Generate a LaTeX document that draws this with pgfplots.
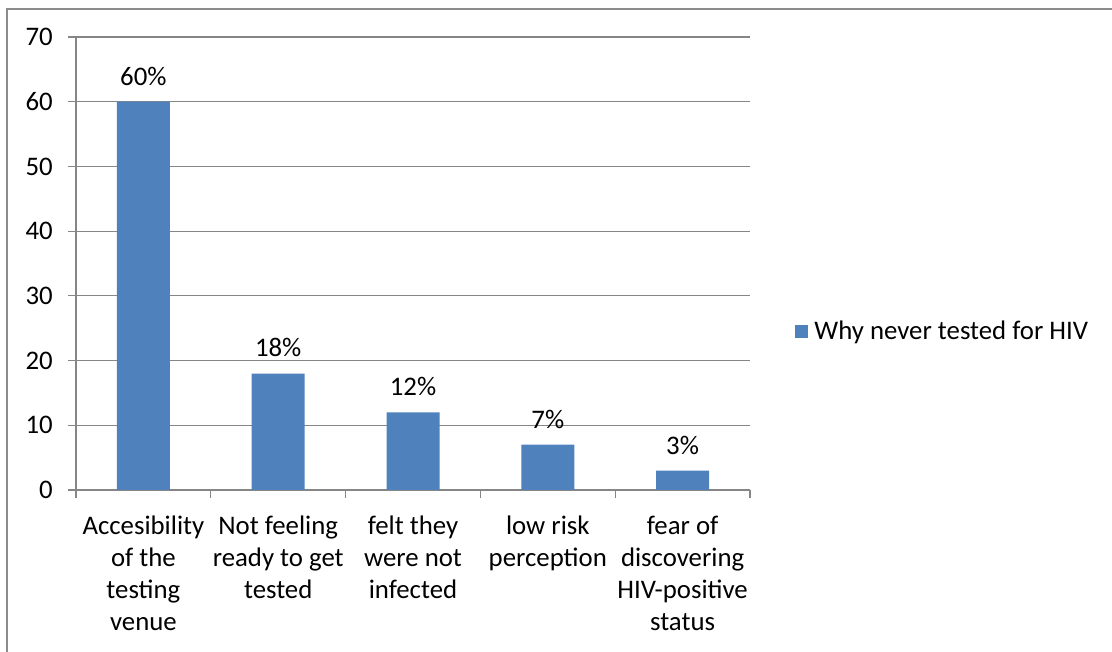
\documentclass[border=0pt]{standalone}
\usepackage{fontspec}
\setmainfont{Carlito}
\usepackage{pgfplots}
\pgfplotsset{compat=1.18}
\definecolor{barblue}{HTML}{4F81BD}
\definecolor{gridgray}{HTML}{868686}
\definecolor{framegray}{HTML}{8C8C8C}
\newcommand{\chartfont}{\fontsize{13.4pt}{16pt}\selectfont}
\begin{document}
\chartfont
\begin{tikzpicture}[x=0.5pt,y=0.5pt]
\useasboundingbox (0,0) rectangle (1112,652);
\draw[framegray, line width=1pt] (7,0) -- (7,643) -- (1112,643);
\begin{axis}[
  at={(38pt,81pt)}, anchor=south west,
  scale only axis, width=337pt, height=226.5pt,
  ybar, bar width=26.5pt,
  xmin=-0.5, xmax=4.5, ymin=0, ymax=70,
  ytick={0,10,...,70},
  xtick={0,...,4},
  minor xtick={-0.5,0.5,...,4.5},
  xticklabels={{Accesibility\\of the\\testing\\venue},{Not feeling\\ready to get\\tested},{felt they\\were not\\infected},{low risk\\perception},{fear of\\discovering\\HIV-positive\\status}},
  xticklabel style={align=center, font=\chartfont, yshift=-4.5pt},
  yticklabel style={font=\chartfont, xshift=-3pt},
  /pgf/number format/assume math mode=true,
  axis lines*=left,
  axis line style={gridgray, line width=0.6pt},
  tick align=outside,
  major tick length=4pt, minor tick length=4pt,
  major x tick style={draw=none},
  minor x tick style={gridgray, line width=0.6pt},
  ytick style={gridgray, line width=0.6pt},
  ymajorgrids, grid style={gridgray, line width=0.6pt},
  nodes near coords={\pgfmathprintnumber{\pgfplotspointmeta}\%},
  every node near coord/.append style={font=\chartfont, yshift=3.5pt},
  legend style={at={(1.0668,0.349)}, anchor=west, draw=none, fill=none,
    font=\chartfont, inner sep=0pt},
  /tikz/every odd column/.append style={column sep=1pt},
  legend image code/.code={\fill[barblue] (0pt,-3.25pt) rectangle (6.5pt,3.25pt);},
  clip=false,
]
\addplot[fill=barblue, draw=none] coordinates {(0,60) (1,18) (2,12) (3,7) (4,3)};
\addlegendentry{Why never tested for HIV}
\end{axis}
\end{tikzpicture}
\end{document}
